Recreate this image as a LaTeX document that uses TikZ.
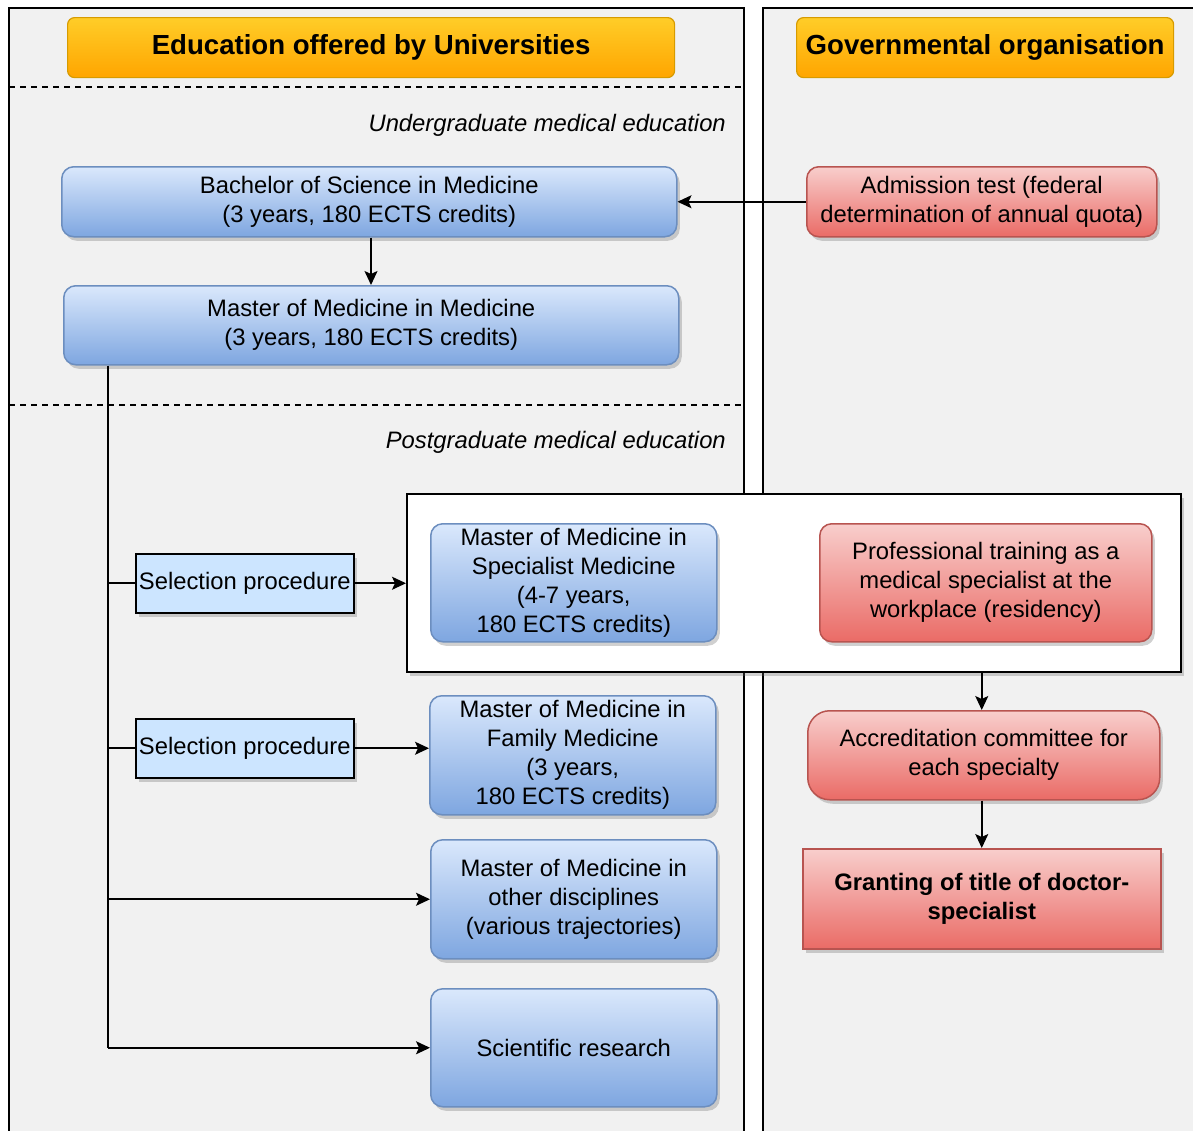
\documentclass[tikz,border=0pt]{standalone}
\usepackage{fontspec}
\setmainfont{Liberation Sans}
\usetikzlibrary{arrows.meta,shadows,positioning}
\definecolor{panel}{HTML}{F1F1F1}
\definecolor{bluetop}{HTML}{DAE8FC}
\definecolor{bluebot}{HTML}{7EA6E0}
\definecolor{blueline}{HTML}{6C8EBF}
\definecolor{redtop}{HTML}{F8CECC}
\definecolor{redbot}{HTML}{EA6B66}
\definecolor{redline}{HTML}{B85450}
\definecolor{ortop}{HTML}{FFCD28}
\definecolor{orbot}{HTML}{FFA500}
\definecolor{orline}{HTML}{D79B00}
\definecolor{selfill}{HTML}{CCE5FF}
\tikzset{
  x=1pt,y=-1pt,
  shad/.style={drop shadow={shadow xshift=3pt,shadow yshift=-4pt,opacity=0.3,fill=black!60}},
  bluebox/.style={draw=blueline,line width=1.5pt,rounded corners=12pt,top color=bluetop,bottom color=bluebot,shad,align=center,anchor=north west,inner sep=0pt,font=\fontsize{23.8}{29}\selectfont},
  redbox/.style={draw=redline,line width=1.5pt,rounded corners=12pt,top color=redtop,bottom color=redbot,shad,align=center,anchor=north west,inner sep=0pt,font=\fontsize{23.8}{29}\selectfont},
  orbox/.style={draw=orline,line width=1.2pt,rounded corners=7pt,top color=ortop,bottom color=orbot,align=center,anchor=north west,inner sep=0pt,font=\fontsize{27.6}{32}\selectfont\bfseries},
  selbox/.style={draw=black,line width=1.5pt,fill=selfill,shad,anchor=north west,inner sep=0pt,font=\fontsize{23.8}{29}\selectfont},
  conn/.style={line width=1.6pt,draw=black},
  arr/.style={conn,-{Stealth[length=14pt,width=13pt,inset=3pt]}},
  seclabel/.style={anchor=east,inner sep=0pt,font=\fontsize{23.8}{28}\selectfont\itshape},
}
\begin{document}
\begin{tikzpicture}
\useasboundingbox[fill=white] (0,0) rectangle (1193,1130);
% panels
\draw[line width=1.5pt,fill=panel] (9,1135) -- (9,8) -- (744,8) -- (744,1135);
\draw[line width=1.5pt,fill=panel] (763,1135) -- (763,8) -- (1198,8) -- (1198,1135);
\draw[line width=1.3pt,dash pattern=on 6pt off 5pt] (9,87) -- (744,87);
\draw[line width=1.3pt,dash pattern=on 6pt off 5pt] (9,405) -- (744,405);
% titles
\node[orbox,minimum width=607pt,minimum height=60pt] (t1) at (67,17) {Education offered by Universities};
\node[orbox,minimum width=377pt,minimum height=60pt] (t2) at (796,17) {Governmental organisation};
\node[seclabel] (ug) at (726,125) {Undergraduate medical education};
\node[seclabel] (pg) at (726,442) {Postgraduate medical education};
% undergraduate
\node[bluebox,minimum width=615pt,minimum height=70pt] (bsc) at (61,166) {Bachelor of Science in Medicine\\(3 years, 180 ECTS credits)};
\node[bluebox,minimum width=615pt,minimum height=79pt] (msc) at (63,285) {Master of Medicine in Medicine\\(3 years, 180 ECTS credits)};
\node[redbox,minimum width=350pt,minimum height=70pt] (adm) at (806,166) {Admission test (federal\\determination of annual quota)};
% white frame
\node[draw=black,line width=1.5pt,fill=white,shad,anchor=north west,minimum width=774pt,minimum height=178pt,inner sep=0pt] (wf) at (406,493) {};
\node[bluebox,minimum width=286pt,minimum height=118pt] (spec) at (430,523) {Master of Medicine in\\Specialist Medicine\\(4-7 years,\\180 ECTS credits)};
\node[redbox,minimum width=332pt,minimum height=118pt] (prof) at (819,523) {Professional training as a\\medical specialist at the\\workplace (residency)};
\node[selbox,minimum width=218pt,minimum height=59pt] (sel1) at (135,553) {Selection procedure};
\node[selbox,minimum width=218pt,minimum height=59pt] (sel2) at (135,718) {Selection procedure};
\node[bluebox,minimum width=286pt,minimum height=119pt] (fam) at (429,695) {Master of Medicine in\\Family Medicine\\(3 years,\\180 ECTS credits)};
\node[bluebox,minimum width=286pt,minimum height=119pt] (oth) at (430,839) {Master of Medicine in\\other disciplines\\(various trajectories)};
\node[bluebox,minimum width=286pt,minimum height=118pt] (res) at (430,988) {Scientific research};
\node[redbox,minimum width=352pt,minimum height=89pt,rounded corners=22pt] (acc) at (807,710) {Accreditation committee for\\each specialty};
\node[redbox,rounded corners=0pt,minimum width=358pt,minimum height=100pt,font=\fontsize{23.8}{29}\selectfont\bfseries] (gra) at (802,848) {Granting of title of doctor-\\specialist};
% connectors
\draw[arr] (adm.west) -- (bsc.east);
\draw[arr] (bsc.south -| 371,0) -- (msc.north -| 371,0);
\coordinate (vt) at ([xshift=45pt]msc.south west);
\draw[conn] (vt) |- ([yshift=-0.1pt]res.west -| 108,0);
\draw[conn] (sel1.west -| vt) -- (sel1.west);
\draw[conn] (sel2.west -| vt) -- (sel2.west);
\draw[arr] (oth.west -| vt) -- (oth.west);
\draw[arr] (res.west -| vt) -- (res.west);
\draw[arr] (sel1.east) -- (sel1.east -| wf.west);
\draw[arr] (sel2.east) -- (sel2.east -| fam.west);
\draw[arr] (wf.south -| gra.north) -- (acc.north -| gra.north);
\draw[arr] (acc.south -| gra.north) -- (gra.north);
\end{tikzpicture}
\end{document}
